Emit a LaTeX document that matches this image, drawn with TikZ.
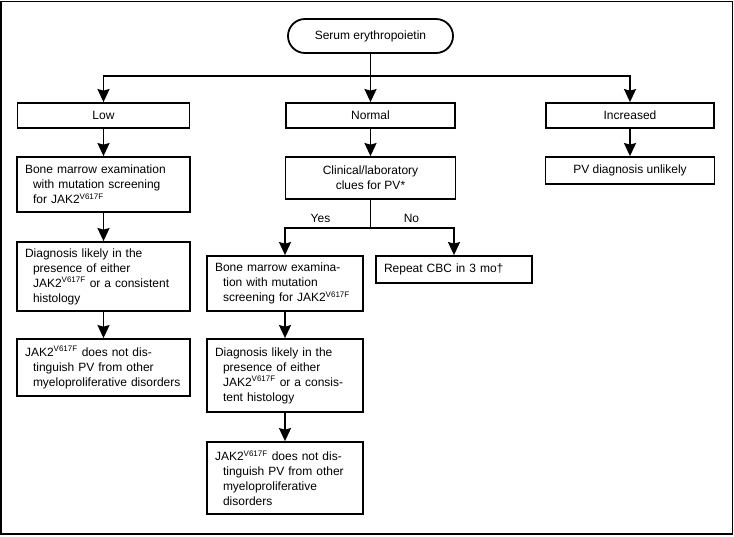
\documentclass[tikz,border=0pt]{standalone}
\usepackage{fontspec}
\setmainfont{Liberation Sans}
\usepackage{tikz}
\usetikzlibrary{arrows.meta}

\newcommand{\jak}{JAK2\textsuperscript{V617F}}

\begin{document}
\begin{tikzpicture}[->,>={Stealth[length=13pt,width=12pt,inset=1.5pt]},x=1pt,y=-1pt,
  line width=1.8pt,font=\fontsize{12}{15}\selectfont,
  main node/.style={draw,rectangle,inner xsep=8pt,inner ysep=2pt,align=center},
  text node/.style={main node,text width=#1,align=left},
  elbow/.style={to path={-| (\tikztotarget)}}]

  \useasboundingbox (0,0) rectangle (734,536);
  \draw[-] (1,1.5) rectangle (732.5,534);

  \node[main node,minimum width=165pt,minimum height=34pt,rounded corners=17pt] (1) at (370.5,36) {Serum erythropoietin};
  \node[main node,minimum width=172pt,minimum height=25pt] (2) at (103.5,115.5) {Low};
  \node[main node,minimum width=169pt,minimum height=25pt] (3) at (370.5,115.5) {Normal};
  \node[main node,minimum width=168pt,minimum height=25pt] (4) at (630,115.5) {Increased};

  \node[text node=157pt,minimum height=55pt] (5) at (103.5,184.5) {Bone marrow examination\\\hspace*{8pt}with mutation screening\\\hspace*{8pt}for \jak};
  \node[text node=157pt,minimum height=69pt] (6) at (103.5,276.5) {Diagnosis likely in the\\\hspace*{8pt}presence of either\\\hspace*{8pt}\jak{} or a consistent\\\hspace*{8pt}histology};
  \node[text node=157pt,minimum height=57pt] (7) at (103.5,367.5) {\jak{} does not dis-\\\hspace*{8pt}tinguish PV from other\\\hspace*{8pt}myeloproliferative disorders};

  \node[main node,minimum width=170pt,minimum height=42pt] (8) at (370.5,178) {Clinical/laboratory\\clues for PV*};
  \node[main node,minimum width=169pt,minimum height=27pt] (9) at (630,170.5) {PV diagnosis unlikely};

  \node[text node=140pt,minimum height=55pt] (10) at (285,283.5) {Bone marrow examina-\\\hspace*{8pt}tion with mutation\\\hspace*{8pt}screening for \jak};
  \node[text node=140pt,minimum height=27pt] (11) at (454,269.5) {Repeat CBC in 3 mo†};
  \node[text node=140pt,minimum height=73pt] (12) at (285,375.5) {Diagnosis likely in the\\\hspace*{8pt}presence of either\\\hspace*{8pt}\jak{} or a consis-\\\hspace*{8pt}tent histology};
  \node[text node=140pt,minimum height=72pt] (13) at (285,478) {\jak{} does not dis-\\\hspace*{8pt}tinguish PV from other\\\hspace*{8pt}myeloproliferative\\\hspace*{8pt}disorders};

  \coordinate (a) at (370.5,76);
  \coordinate (b) at (370.5,228);
  \node (yes) at (320.5,218) {Yes};
  \node (no) at (411.5,218) {No};

  \path
    (1) edge[-] (a)
    (a) edge (3)
    (a) edge[elbow] (2)
    (a) edge[elbow] (4)
    (2) edge (5)
    (5) edge (6)
    (6) edge (7)
    (3) edge (8)
    (4) edge (9)
    (8) edge[-] (b)
    (b) edge[elbow] (10)
    (b) edge[elbow] (11)
    (10) edge (12)
    (12) edge (13);
\end{tikzpicture}
\end{document}
